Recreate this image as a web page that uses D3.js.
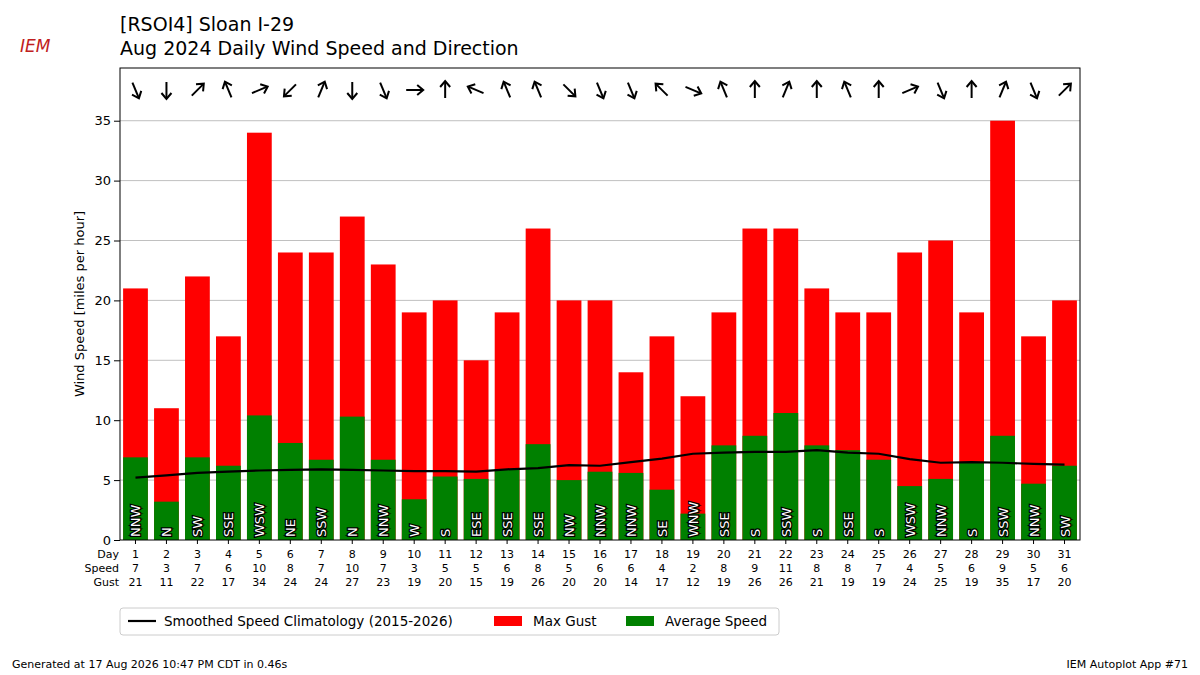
<!DOCTYPE html>
<html><head><meta charset="utf-8">
<script src="https://cdn.jsdelivr.net/npm/d3@7"></script>
<style>body{margin:0;background:#fff}text{font-family:"DejaVu Sans",sans-serif}</style>
</head><body><div id="chart"></div>
<script>
const data = [
  [1,6.9,21,'NNW',7],[2,3.2,11,'N',3],[3,6.9,22,'SW',7],[4,6.2,17,'SSE',6],[5,10.4,34,'WSW',10],
  [6,8.1,24,'NE',8],[7,6.7,24,'SSW',7],[8,10.3,27,'N',10],[9,6.7,23,'NNW',7],[10,3.4,19,'W',3],
  [11,5.3,20,'S',5],[12,5.1,15,'ESE',5],[13,5.9,19,'SSE',6],[14,8.0,26,'SSE',8],[15,5.0,20,'NW',5],
  [16,5.7,20,'NNW',6],[17,5.6,14,'NNW',6],[18,4.2,17,'SE',4],[19,2.2,12,'WNW',2],[20,7.9,19,'SSE',8],
  [21,8.7,26,'S',9],[22,10.6,26,'SSW',11],[23,7.9,21,'S',8],[24,7.5,19,'SSE',8],[25,6.7,19,'S',7],
  [26,4.5,24,'WSW',4],[27,5.1,25,'NNW',5],[28,6.5,19,'S',6],[29,8.7,35,'SSW',9],[30,4.7,17,'NNW',5],
  [31,6.2,20,'SW',6]
].map(d => ({day: d[0], avg: d[1], gust: d[2], dir: d[3], spd: d[4]}));
const clim = [5.2,5.4,5.6,5.7,5.8,5.85,5.9,5.85,5.8,5.75,5.75,5.7,5.9,6.0,6.25,6.2,6.5,6.8,7.2,7.3,7.35,7.35,7.5,7.3,7.2,6.75,6.45,6.5,6.45,6.35,6.3];
const dirs = ['N','NNE','NE','ENE','E','ESE','SE','SSE','S','SSW','SW','WSW','W','WNW','NW','NNW'];

const svg = d3.select('#chart').append('svg').attr('width',1200).attr('height',675);
const L=120,R=1080,T=68,B=540;
const x = d3.scaleBand().domain(data.map(d=>d.day)).range([L,R]).paddingInner(0.2).paddingOuter(0.1);
const y = d3.scaleLinear().domain([0,39.4]).range([B,T]);

svg.append('g').selectAll('line').data(d3.range(5,36,5)).join('line')
  .attr('x1',L).attr('x2',R).attr('y1',d=>y(d)).attr('y2',d=>y(d)).attr('stroke','#b0b0b0').attr('stroke-width',0.8);

svg.append('g').selectAll('rect').data(data).join('rect')
  .attr('x',d=>x(d.day)).attr('width',x.bandwidth()).attr('y',d=>y(d.gust)).attr('height',d=>B-y(d.gust)).attr('fill','#ff0000');
svg.append('g').selectAll('rect').data(data).join('rect')
  .attr('x',d=>x(d.day)).attr('width',x.bandwidth()).attr('y',d=>y(d.avg)).attr('height',d=>B-y(d.avg)).attr('fill','#008000');

svg.append('path').datum(clim).attr('fill','none').attr('stroke','#000').attr('stroke-width',2.2)
  .attr('d',d3.line().x((c,i)=>x(i+1)+x.bandwidth()/2).y(c=>y(c)));

// direction labels
svg.append('g').selectAll('text').data(data).join('text')
  .attr('transform',d=>`translate(${x(d.day)+x.bandwidth()/2+5},${B-3}) rotate(-90)`)
  .attr('font-size',13).attr('fill','#fff').attr('stroke','#000').attr('stroke-width',2.5)
  .attr('paint-order','stroke').text(d=>d.dir);

// arrows (pointing where wind goes)
const ag = svg.append('g').selectAll('g').data(data).join('g')
  .attr('transform',d=>`translate(${x(d.day)+x.bandwidth()/2},90) rotate(${dirs.indexOf(d.dir)*22.5+180})`);
ag.append('line').attr('x1',0).attr('x2',0).attr('y1',8).attr('y2',-8).attr('stroke','#000').attr('stroke-width',2);
ag.append('path').attr('d','M-5,-3 L0,-9 L5,-3').attr('fill','none').attr('stroke','#000').attr('stroke-width',2);

svg.append('rect').attr('x',L).attr('y',T).attr('width',R-L).attr('height',B-T).attr('fill','none').attr('stroke','#000');

const ya = svg.append('g').attr('transform',`translate(${L},0)`).call(d3.axisLeft(y).tickValues(d3.range(0,36,5)).tickSizeOuter(0));
ya.select('.domain').remove();
ya.selectAll('text').attr('font-size',13).attr('font-family','DejaVu Sans');
svg.append('text').attr('transform',`translate(84,${(T+B)/2}) rotate(-90)`).attr('text-anchor','middle').attr('font-size',13).text('Wind Speed [miles per hour]');

const xa = svg.append('g').attr('transform',`translate(0,${B})`).call(d3.axisBottom(x).tickSize(4).tickFormat(''));
xa.select('.domain').remove();
const rows = [['Day',d=>d.day],['Speed',d=>d.spd],['Gust',d=>d.gust]];
rows.forEach((r,i)=>{
  const yy = 558+i*14;
  svg.append('text').attr('x',L-1).attr('y',yy).attr('text-anchor','end').attr('font-size',11).text(r[0]);
  svg.append('g').selectAll('text').data(data).join('text')
    .attr('x',d=>x(d.day)+x.bandwidth()/2).attr('y',yy).attr('text-anchor','middle').attr('font-size',11).text(r[1]);
});

svg.append('text').attr('x',120).attr('y',31).attr('font-size',19).text('[RSOI4] Sloan I-29');
svg.append('text').attr('x',120).attr('y',55).attr('font-size',19).text('Aug 2024 Daily Wind Speed and Direction');
svg.append('text').attr('x',20).attr('y',52).attr('font-size',17).attr('fill','#c02020').attr('font-style','italic').attr('font-family','Liberation Serif').text('IEM');

// legend
const lg = svg.append('g').attr('transform','translate(120,608)');
lg.append('rect').attr('width',659).attr('height',27).attr('rx',3).attr('fill','#fff').attr('stroke','#ccc');
lg.append('line').attr('x1',8).attr('x2',36).attr('y1',13).attr('y2',13).attr('stroke','#000').attr('stroke-width',2.2);
lg.append('text').attr('x',44).attr('y',18).attr('font-size',13.5).text('Smoothed Speed Climatology (2015-2026)');
lg.append('rect').attr('x',374).attr('y',8).attr('width',28).attr('height',10).attr('fill','#ff0000');
lg.append('text').attr('x',413).attr('y',18).attr('font-size',13.5).text('Max Gust');
lg.append('rect').attr('x',506).attr('y',8).attr('width',28).attr('height',10).attr('fill','#008000');
lg.append('text').attr('x',545).attr('y',18).attr('font-size',13.5).text('Average Speed');

svg.append('text').attr('x',12).attr('y',668).attr('font-size',11).text('Generated at 17 Aug 2026 10:47 PM CDT in 0.46s');
svg.append('text').attr('x',1188).attr('y',668).attr('text-anchor','end').attr('font-size',11).text('IEM Autoplot App #71');
</script></body></html>
